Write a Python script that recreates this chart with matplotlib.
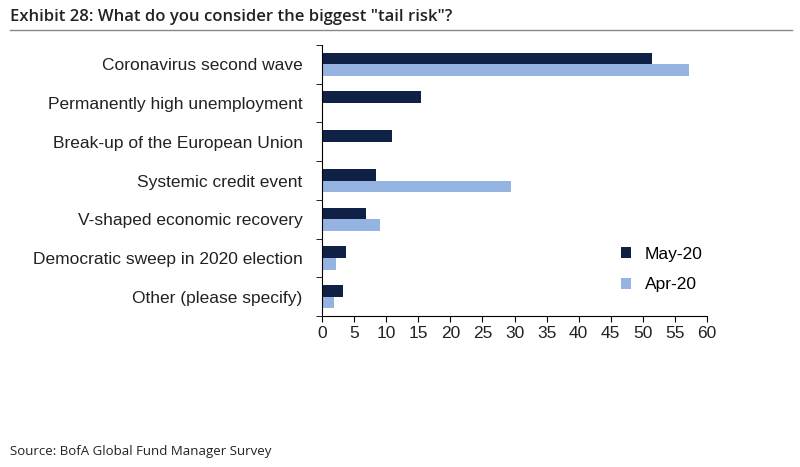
import numpy as np
import matplotlib.pyplot as plt

categories = ["Coronavirus second wave", "Permanently high unemployment",
              "Break-up of the European Union", "Systemic credit event",
              "V-shaped economic recovery", "Democratic sweep in 2020 election",
              "Other (please specify)"]
may20 = [51.5, 15.5, 10.9, 8.4, 6.8, 3.7, 3.3]
apr20 = [57.2, 0, 0, 29.5, 9.1, 2.2, 1.9]

plt.rcParams["font.family"] = ["Liberation Sans", "DejaVu Sans"]

fig = plt.figure(figsize=(8, 4.67), dpi=100)
ax = fig.add_axes([322/800, 1-316/467, 385/800, 271/467])

y = np.arange(len(categories))
h = 0.3
ax.barh(y - h/2, may20, height=h, color="#0f2246", label="May-20")
ax.barh(y + h/2, apr20, height=h, color="#95b3e0", label="Apr-20")

ax.set_ylim(len(categories) - 0.5, -0.5)
ax.set_xlim(0, 60)
ax.set_xticks(range(0, 61, 5))
ax.set_yticks(y)
ax.set_yticklabels(categories, fontsize=12.5, color="#222222")
ax.set_yticks(np.arange(-0.5, len(categories), 1), minor=True)
ax.tick_params(axis="y", which="major", length=0, pad=14)
ax.tick_params(axis="y", which="minor", length=4, direction="out")
ax.tick_params(axis="x", length=4, labelsize=12.5, labelcolor="#222222")
for s in ["top", "right"]:
    ax.spines[s].set_visible(False)

ax.legend(loc="lower right", bbox_to_anchor=(1.03, 0.03), frameon=False,
          fontsize=12.5, handlelength=0.6, handleheight=0.6, labelspacing=0.9)

fig.text(0.012, 0.955, 'Exhibit 28: What do you consider the biggest "tail risk"?',
         fontsize=12, color="#222222", family="Open Sans", weight="semibold")
fig.add_artist(plt.Line2D([0.012, 0.99], [0.935, 0.935], color="#888888", lw=1))
fig.text(0.012, 0.025, "Source: BofA Global Fund Manager Survey",
         fontsize=9.5, color="#222222", family="Open Sans")

fig.savefig("out.png", dpi=100)
